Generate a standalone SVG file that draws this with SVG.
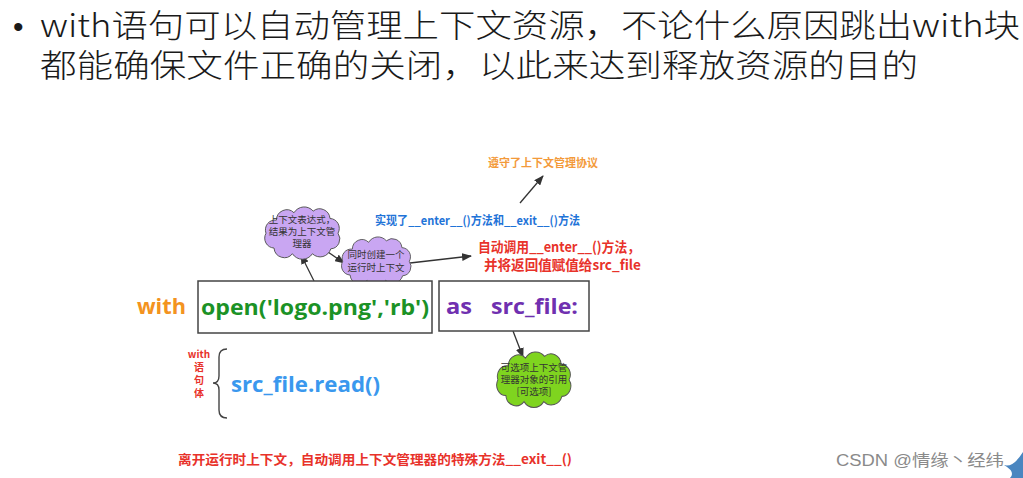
<svg xmlns="http://www.w3.org/2000/svg" width="1023" height="478" viewBox="0 0 1023 478">
<style>
.title{font-family:"Noto Sans CJK SC","Noto Sans",sans-serif;font-size:32px;font-weight:300;fill:#1a1a1a}
.b{font-family:"Noto Sans CJK SC","Noto Sans",sans-serif;font-weight:700}
.code{font-family:"Open Sans","Noto Sans CJK SC",sans-serif;font-weight:700}
.ct{font-family:"Noto Sans CJK SC",sans-serif;font-size:9.5px;fill:#333;text-anchor:middle}
.ln{stroke:#333;stroke-width:1.3;fill:none;marker-end:url(#ah)}
.box{fill:#fff;stroke:#444;stroke-width:1.5}
.cloud{stroke:#555;stroke-width:1.2;vector-effect:non-scaling-stroke}
</style>
<defs>
<marker id="ah" markerWidth="10" markerHeight="8" refX="9" refY="4" orient="auto" markerUnits="userSpaceOnUse">
<path d="M0,0 L10,4 L0,8 Z" fill="#333"/>
</marker>
<path id="cl" d="M18,16 A13,13 0 0 1 40,7 A15,15 0 0 1 64,5 A13,13 0 0 1 85,14 A12,12 0 0 1 95,32 A12,12 0 0 1 86,51 A14,14 0 0 1 63,57 A15,15 0 0 1 38,57 A13,13 0 0 1 15,50 A12,12 0 0 1 5,32 A12,12 0 0 1 18,16 Z"/>
</defs>
<rect width="1023" height="478" fill="#fff"/>
<g id="title">
<text x="13" y="37" font-family="'Liberation Sans',sans-serif" font-size="30" fill="#1a1a1a">•</text>
<text x="40" y="37" class="title" textLength="980" lengthAdjust="spacingAndGlyphs">with语句可以自动管理上下文资源，不论什么原因跳出with块</text>
<text x="40" y="77" class="title" textLength="878" lengthAdjust="spacingAndGlyphs">都能确保文件正确的关闭，以此来达到释放资源的目的</text>
</g>
<g id="connectors">
<line x1="520" y1="203" x2="543" y2="176" class="ln"/>
<line x1="314" y1="281" x2="301" y2="255" class="ln"/>
<line x1="325" y1="250" x2="344" y2="263" class="ln"/>
<line x1="410" y1="263" x2="471" y2="256" class="ln"/>
<line x1="513" y1="331" x2="523" y2="357" class="ln"/>
</g>
<g id="protocol">
<text x="488" y="167" class="b" font-size="11" fill="#f39a3a" textLength="110" lengthAdjust="spacingAndGlyphs">遵守了上下文管理协议</text>
</g>
<g id="implements">
<text x="375" y="225" class="b" font-size="12" fill="#1f74d8" textLength="205" lengthAdjust="spacingAndGlyphs">实现了__enter__()方法和__exit__()方法</text>
</g>
<g id="cloud-expr">
<use href="#cl" transform="translate(262,207) scale(0.8,0.82)" class="cloud" fill="#c9a6f2"/>
<text x="302" y="223" class="ct">上下文表达式，</text>
<text x="302" y="235" class="ct">结果为上下文管</text>
<text x="302" y="247" class="ct">理器</text>
</g>
<g id="cloud-runtime">
<use href="#cl" transform="translate(339,237) scale(0.74,0.76)" class="cloud" fill="#c9a6f2"/>
<text x="376" y="258" class="ct">同时创建一个</text>
<text x="376" y="271" class="ct">运行时上下文</text>
</g>
<g id="enter-call">
<text x="478" y="252" class="b" font-size="14" fill="#e8322a" textLength="162" lengthAdjust="spacingAndGlyphs">自动调用__enter__()方法，</text>
<text x="484" y="270" class="b" font-size="14" fill="#e8322a" textLength="157" lengthAdjust="spacingAndGlyphs">并将返回值赋值给src_file</text>
</g>
<g id="with-kw">
<text x="137" y="314" class="code" font-size="21" fill="#f39320" textLength="49" lengthAdjust="spacingAndGlyphs">with</text>
</g>
<g id="open-box">
<rect x="198" y="281" width="234" height="52" class="box"/>
<text x="201" y="315" class="code" font-size="22" fill="#1b9226" textLength="228" lengthAdjust="spacingAndGlyphs">open('logo.png','rb')</text>
</g>
<g id="as-box">
<rect x="439" y="281" width="150" height="50" class="box"/>
<text x="446" y="314" class="code" font-size="22" fill="#7030b0" textLength="26" lengthAdjust="spacingAndGlyphs">as</text>
<text x="491" y="314" class="code" font-size="22" fill="#7030b0" textLength="87" lengthAdjust="spacingAndGlyphs">src_file:</text>
</g>
<g id="cloud-target">
<use href="#cl" transform="translate(494,352) scale(0.79,0.87)" class="cloud" fill="#7fd41f"/>
<text x="534" y="371" class="ct">可选项上下文管</text>
<text x="534" y="383" class="ct">理器对象的引用</text>
<text x="534" y="395" class="ct">[可选项]</text>
</g>
<g id="body">
<text x="199" y="358" class="b" font-size="10" fill="#e8322a" text-anchor="middle">with</text>
<text x="199" y="371" class="b" font-size="10" fill="#e8322a" text-anchor="middle">语</text>
<text x="199" y="384" class="b" font-size="10" fill="#e8322a" text-anchor="middle">句</text>
<text x="199" y="397" class="b" font-size="10" fill="#e8322a" text-anchor="middle">体</text>
<path d="M227,349 Q219,349 219,357 L219,376 Q219,383 213,383 Q219,383 219,390 L219,410 Q219,418 227,418" fill="none" stroke="#444" stroke-width="1.4"/>
<text x="231" y="392" class="code" font-size="22" fill="#3a98ee" textLength="149" lengthAdjust="spacingAndGlyphs">src_file.read()</text>
</g>
<g id="exit-call">
<text x="178" y="464" class="b" font-size="13" fill="#e8322a" textLength="394" lengthAdjust="spacingAndGlyphs">离开运行时上下文，自动调用上下文管理器的特殊方法__exit__()</text>
</g>
<g id="watermark">
<text x="836" y="466" font-family="Liberation Sans,'Noto Sans CJK SC',sans-serif" font-size="16" fill="#8a8a8a" textLength="168" lengthAdjust="spacingAndGlyphs">CSDN @情缘丶经纬</text>
<path d="M1004,465 Q1013,468 1023,452 L1023,478 L1010,478 Q1016,472 1004,465 Z" fill="#4a86c0"/>
</g>
</svg>
